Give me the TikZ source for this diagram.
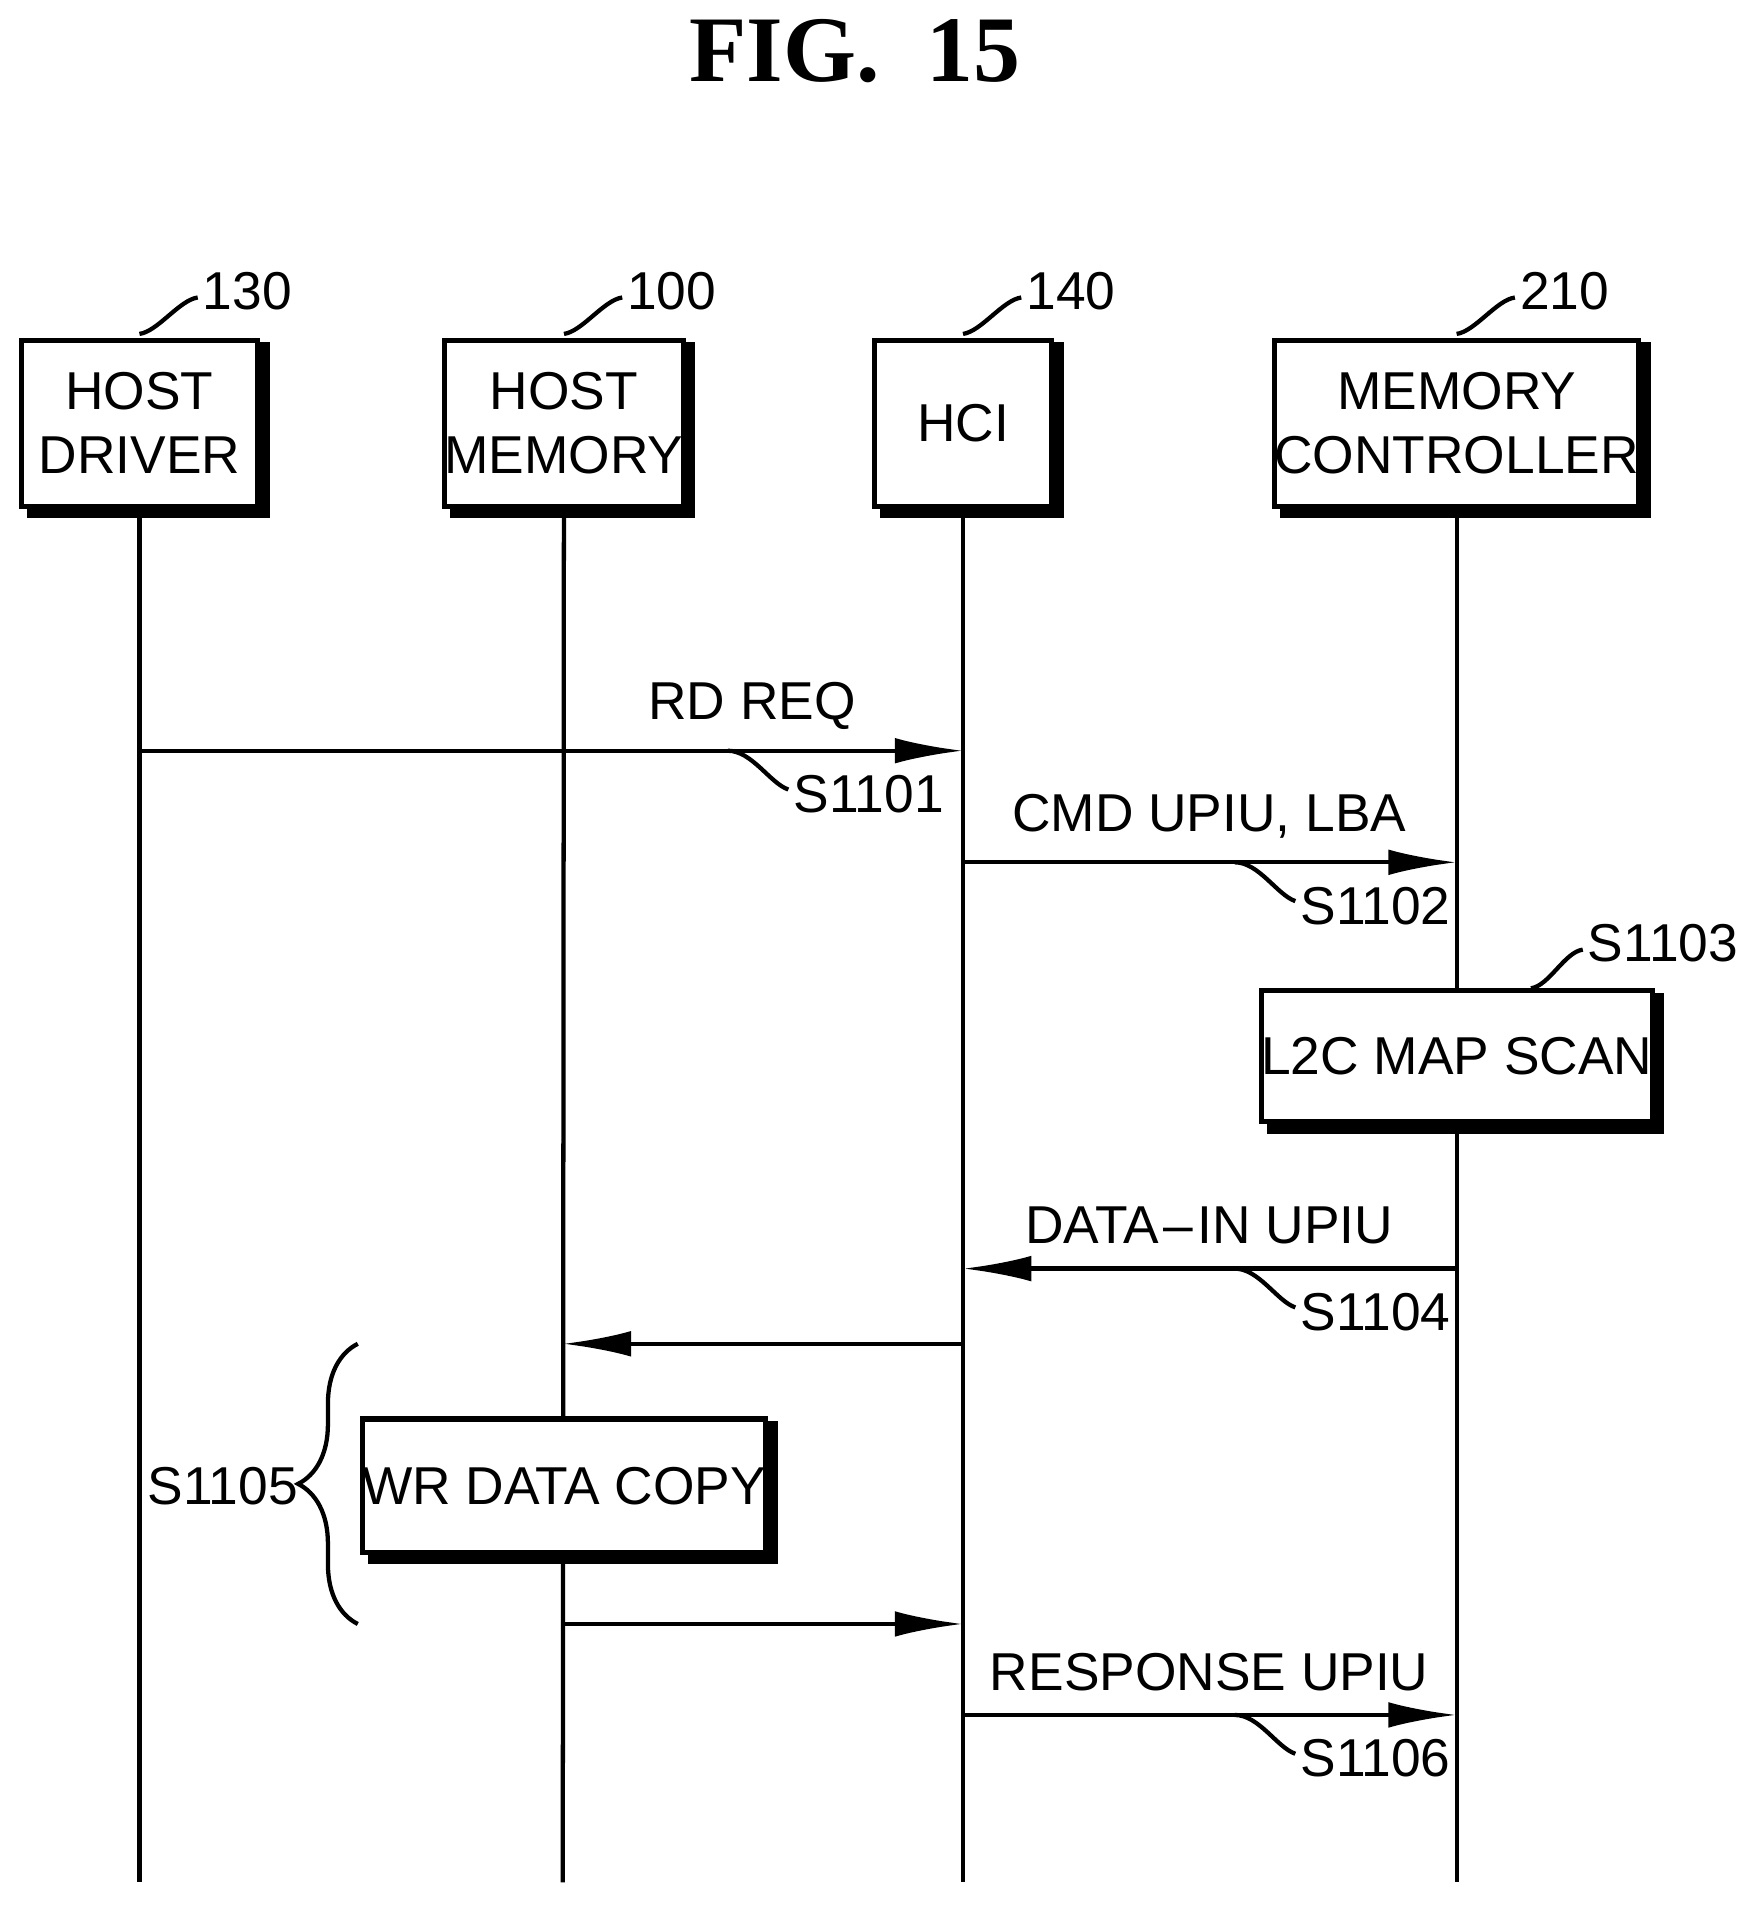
\documentclass[tikz,border=0pt]{standalone}
\usepackage{fontspec}
\setmainfont{Liberation Sans}
\newfontfamily\titlefont{Liberation Serif}
\usetikzlibrary{arrows.meta,decorations.pathreplacing}

\begin{document}
\begin{tikzpicture}[x=0.01cm,y=0.01cm,
  every node/.style={font=\fontsize{12.5}{15}\selectfont},
  block/.style={draw, line width=1.2pt, align=center, inner sep=0pt, minimum height=1.37cm},
  msg/.style={line width=1pt, -{Latex[length=16pt,width=6pt]}},
  life/.style={line width=1pt},
  lead/.style={line width=1pt}]
\useasboundingbox (0,0) rectangle (1440,1574);

% Titel
\node (title) at (705,1532) {\titlefont\bfseries\fontsize{22}{24}\selectfont FIG.\ \ 15};

% Teilnehmer
\node[block, minimum width=1.95cm] (drv) at (115,1225) {HOST\\DRIVER};
\node[block, minimum width=1.96cm] (mem) at (465,1225) {HOST\\MEMORY};
\node[block, minimum width=1.46cm] (hci) at (794,1225) {HCI};
\node[block, minimum width=2.73cm] (mc) at (1201,1225) {MEMORY\\CONTROLLER};

% Nummern
\foreach \n/\t in {drv/130,mem/100,hci/140,mc/210}{
  \node[anchor=west, inner sep=1pt] (r\t) at ([xshift=0.48cm,yshift=0.38cm]\n.north) {\t};
  \draw[lead] ([yshift=0.03cm]\n.north) .. controls +(0.15cm,0.02cm) and +(-0.15cm,-0.02cm) .. ([yshift=-0.05cm]r\t.west);
}

% Lebenslinien
\coordinate (drvE) at (115,22);
\coordinate (memE) at (464,22);
\coordinate (hciE) at (794,22);
\coordinate (mcE) at (1201,22);
\draw[life] (drv) -- (drvE);
\draw[life] (mem) -- (memE);
\draw[life] (hci) -- (hciE);
\draw[life] (mc) -- (mcE);

% Bloecke auf Lebenslinien
\node[block, fill=white, minimum width=3.11cm, minimum height=1.08cm] (scan) at (1201,703) {L2C MAP SCAN};
\node[block, fill=white, minimum width=3.13cm, minimum height=1.10cm] (copy) at (465,349) {WR DATA COPY};
\node[anchor=west, inner sep=1pt] (s3) at (1305,796) {S1103};
\draw[lead] ([xshift=-1.02cm]scan.north east) .. controls +(0.15cm,0.02cm) and +(-0.15cm,-0.02cm) .. ([yshift=-0.05cm]s3.west);

% Schatten
\foreach \n in {drv,mem,hci,mc,scan,copy}
  \draw[line width=2.4pt] ([xshift=2pt,yshift=-1pt]\n.south west) -- ([xshift=1pt,yshift=-1pt]\n.south east) -- ([xshift=1pt,yshift=-1pt]\n.north east);

% Nachrichten
\coordinate (a1) at (115,955);  \coordinate (b1) at (794,955);
\coordinate (a2) at (794,863);  \coordinate (b2) at (1201,863);
\coordinate (a4) at (1201,528); \coordinate (b4) at (794,528);
\coordinate (a5) at (794,466);  \coordinate (b5) at (464,466);
\coordinate (a6) at (464,235);  \coordinate (b6) at (794,235);
\coordinate (a7) at (794,160);  \coordinate (b7) at (1201,160);
\draw[msg] (a1) -- (b1);
\draw[msg] (a2) -- (b2);
\draw[msg] (a4) -- (b4);
\draw[msg] (a5) -- (b5);
\draw[msg] (a6) -- (b6);
\draw[msg] (a7) -- (b7);

\node (l1) at (620,992) {RD REQ};
\node (l2) at (997,901) {CMD UPIU, LBA};
\node (l4) at (997,564) {DATA{\kern1pt}--{\kern1pt}IN UPIU};
\node (l7) at (997,195) {RESPONSE UPIU};

% Schrittnummern
\foreach \y/\x/\t in {955/600/S1101,863/1018/S1102,528/1018/S1104,160/1018/S1106}{
  \coordinate (c\t) at (\x,\y);
  \node[anchor=west, inner sep=1pt] (n\t) at (\x+50,\y-36) {\t};
  \draw[lead] (c\t) .. controls +(0.2cm,0) and +(-0.15cm,0.05cm) .. ([yshift=0.04cm]n\t.west);
}

% Klammer
\coordinate (br1) at (295,466);
\coordinate (br2) at (295,235);
\draw[line width=1pt, decorate, decoration={brace, amplitude=14pt}] (br2) -- (br1);
\node[anchor=east] (s5) at (258,349) {S1105};
\end{tikzpicture}
\end{document}
